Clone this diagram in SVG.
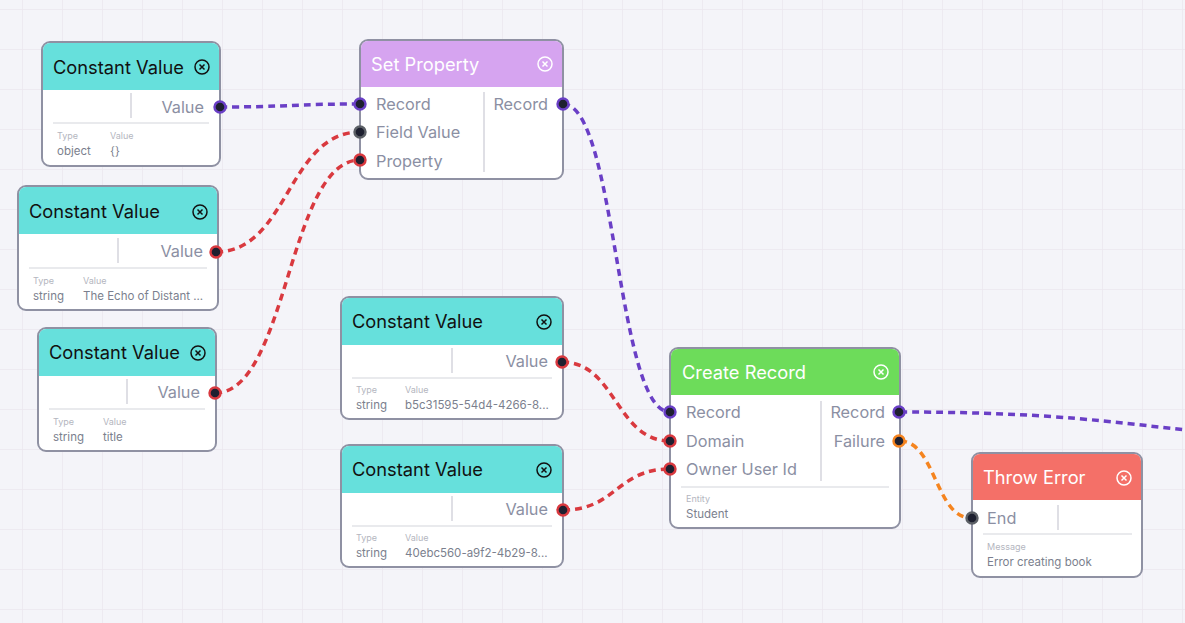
<svg xmlns="http://www.w3.org/2000/svg" width="1185" height="623" viewBox="0 0 1185 623">
<defs>
<pattern id="grid" x="22" y="9" width="40" height="40" patternUnits="userSpaceOnUse">
<path d="M0 0H40M0 0V40" fill="none" stroke="#ece8ee" stroke-width="1.5"/>
</pattern>
<style>
.card{fill:#fff;stroke:#8f91a3;stroke-width:2}
.title{font-family:Inter,"Liberation Sans",sans-serif;font-size:18.3px}
.tdark{fill:#111}
.tlight{fill:#fff}
.lbl{font-family:Inter,"Liberation Sans",sans-serif;font-size:16.3px;fill:#8b8fa3}
.sm{font-family:Inter,"Liberation Sans",sans-serif;font-size:9px;fill:#b4b6c0}
.val{font-family:Inter,"Liberation Sans",sans-serif;font-size:11.5px;fill:#7b7f8e}
.div{stroke:#d4d5dc;stroke-width:1.5}
.sep{stroke:#d4d5dc;stroke-width:1.2}
.close{fill:none;stroke-width:1.5}
.port{fill:#1e2030;stroke-width:2.4}
.p-pur{stroke:#6a3fc6}
.p-red{stroke:#d9393f}
.p-gry{stroke:#5c6066}
.p-org{stroke:#f5841f}
.wire{fill:none;stroke-width:3.5;stroke-dasharray:7 5}
.w-pur{stroke:#6a3fc6}
.w-red{stroke:#d9393f}
.w-org{stroke:#f5841f}
</style>
</defs>
<rect width="1185" height="623" fill="#f4f4f9"/>
<rect width="1185" height="623" fill="url(#grid)"/>

<g id="connectors">
<path class="wire w-pur" d="M220 107 C290 107 290 104 360 104"/>
<path class="wire w-red" d="M216 252 C288 252 288 132 360 132"/>
<path class="wire w-red" d="M215 393 C288 393 288 160 360 160"/>
<path class="wire w-pur" d="M563 104 C616.5 104 616.5 412 670 412"/>
<path class="wire w-red" d="M562 362 C616 362 616 441 670 441"/>
<path class="wire w-red" d="M563 510 C616.5 510 616.5 469 670 469"/>
<path class="wire w-pur" d="M900 412 C1150 412 1150 440 1400 440"/>
<path class="wire w-org" d="M900 441 C935.5 441 935.5 518 971 518"/>
</g>

<g id="const1" transform="translate(42,42)">
<rect class="card" x="0" y="0" width="178" height="124" rx="8"/>
<path d="M1 48V8A7 7 0 0 1 8 1H170A7 7 0 0 1 177 8V48Z" fill="#66e0dc"/>
<text class="title tdark" x="11" y="32">Constant Value</text>
<circle class="close" stroke="#111" cx="160" cy="25" r="7"/>
<path class="close" stroke="#111" d="M157.5 22.5l5 5M162.5 22.5l-5 5"/>
<line class="div" x1="89" y1="51" x2="89" y2="76"/>
<text class="lbl" x="162" y="71" text-anchor="end">Value</text>
<line class="sep" x1="11" y1="81" x2="167" y2="81"/>
<text class="sm" x="15" y="97">Type</text>
<text class="sm" x="68" y="97">Value</text>
<text class="val" x="15" y="113">object</text>
<text class="val" x="68" y="113">{}</text>
<circle class="port p-pur" cx="178" cy="65" r="5.5"/>
</g>

<g id="const2" transform="translate(18,186)">
<rect class="card" x="0" y="0" width="200" height="124" rx="8"/>
<path d="M1 48V8A7 7 0 0 1 8 1H192A7 7 0 0 1 199 8V48Z" fill="#66e0dc"/>
<text class="title tdark" x="11" y="32">Constant Value</text>
<circle class="close" stroke="#111" cx="182" cy="26" r="7"/>
<path class="close" stroke="#111" d="M179.5 23.5l5 5M184.5 23.5l-5 5"/>
<line class="div" x1="100" y1="52" x2="100" y2="77"/>
<text class="lbl" x="185" y="71" text-anchor="end">Value</text>
<line class="sep" x1="11" y1="82" x2="189" y2="82"/>
<text class="sm" x="15" y="98">Type</text>
<text class="sm" x="65" y="98">Value</text>
<text class="val" x="15" y="114">string</text>
<text class="val" x="65" y="114">The Echo of Distant ...</text>
<circle class="port p-red" cx="198" cy="66" r="5.5"/>
</g>

<g id="const3" transform="translate(38,328)">
<rect class="card" x="0" y="0" width="178" height="123" rx="8"/>
<path d="M1 48V8A7 7 0 0 1 8 1H170A7 7 0 0 1 177 8V48Z" fill="#66e0dc"/>
<text class="title tdark" x="11" y="31">Constant Value</text>
<circle class="close" stroke="#111" cx="160" cy="25" r="7"/>
<path class="close" stroke="#111" d="M157.5 22.5l5 5M162.5 22.5l-5 5"/>
<line class="div" x1="89" y1="51" x2="89" y2="76"/>
<text class="lbl" x="162" y="70" text-anchor="end">Value</text>
<line class="sep" x1="11" y1="81" x2="167" y2="81"/>
<text class="sm" x="15" y="97">Type</text>
<text class="sm" x="65" y="97">Value</text>
<text class="val" x="15" y="113">string</text>
<text class="val" x="65" y="113">title</text>
<circle class="port p-red" cx="177" cy="65" r="5.5"/>
</g>

<g id="const4" transform="translate(341,297)">
<rect class="card" x="0" y="0" width="222" height="122" rx="8"/>
<path d="M1 48V8A7 7 0 0 1 8 1H214A7 7 0 0 1 221 8V48Z" fill="#66e0dc"/>
<text class="title tdark" x="11" y="31">Constant Value</text>
<circle class="close" stroke="#111" cx="203" cy="25" r="7"/>
<path class="close" stroke="#111" d="M200.5 22.5l5 5M205.5 22.5l-5 5"/>
<line class="div" x1="111" y1="51" x2="111" y2="76"/>
<text class="lbl" x="207" y="70" text-anchor="end">Value</text>
<line class="sep" x1="11" y1="81" x2="211" y2="81"/>
<text class="sm" x="15" y="96">Type</text>
<text class="sm" x="64" y="96">Value</text>
<text class="val" x="15" y="112">string</text>
<text class="val" x="64" y="112">b5c31595-54d4-4266-8...</text>
<circle class="port p-red" cx="221" cy="65" r="5.5"/>
</g>

<g id="const5" transform="translate(341,445)">
<rect class="card" x="0" y="0" width="222" height="122" rx="8"/>
<path d="M1 48V8A7 7 0 0 1 8 1H214A7 7 0 0 1 221 8V48Z" fill="#66e0dc"/>
<text class="title tdark" x="11" y="31">Constant Value</text>
<circle class="close" stroke="#111" cx="203" cy="25" r="7"/>
<path class="close" stroke="#111" d="M200.5 22.5l5 5M205.5 22.5l-5 5"/>
<line class="div" x1="111" y1="51" x2="111" y2="76"/>
<text class="lbl" x="207" y="70" text-anchor="end">Value</text>
<line class="sep" x1="11" y1="81" x2="211" y2="81"/>
<text class="sm" x="15" y="96">Type</text>
<text class="sm" x="64" y="96">Value</text>
<text class="val" x="15" y="112">string</text>
<text class="val" x="64" y="112">40ebc560-a9f2-4b29-8...</text>
<circle class="port p-red" cx="222" cy="65" r="5.5"/>
</g>

<g id="setprop" transform="translate(360,40)">
<rect class="card" x="0" y="0" width="203" height="139" rx="8"/>
<path d="M1 47V8A7 7 0 0 1 8 1H195A7 7 0 0 1 202 8V47Z" fill="#d6a4f0"/>
<text class="title tlight" x="11" y="31">Set Property</text>
<circle class="close" stroke="#fff" cx="185" cy="24" r="7"/>
<path class="close" stroke="#fff" d="M182.5 21.5l5 5M187.5 21.5l-5 5"/>
<line class="div" x1="124" y1="52" x2="124" y2="132"/>
<text class="lbl" x="16" y="70">Record</text>
<text class="lbl" x="16" y="98">Field Value</text>
<text class="lbl" x="16" y="127">Property</text>
<text class="lbl" x="188" y="70" text-anchor="end">Record</text>
<circle class="port p-pur" cx="0" cy="64" r="5.5"/>
<circle class="port p-gry" cx="0" cy="92" r="5.5"/>
<circle class="port p-red" cx="0" cy="120" r="5.5"/>
<circle class="port p-pur" cx="203" cy="64" r="5.5"/>
</g>

<g id="createrec" transform="translate(670,348)">
<rect class="card" x="0" y="0" width="230" height="180" rx="8"/>
<path d="M1 47V8A7 7 0 0 1 8 1H222A7 7 0 0 1 229 8V47Z" fill="#6ddc5a"/>
<text class="title tlight" x="12" y="31">Create Record</text>
<circle class="close" stroke="#fff" cx="211" cy="24" r="7"/>
<path class="close" stroke="#fff" d="M208.5 21.5l5 5M213.5 21.5l-5 5"/>
<line class="div" x1="151" y1="53" x2="151" y2="133"/>
<text class="lbl" x="16" y="70">Record</text>
<text class="lbl" x="16" y="99">Domain</text>
<text class="lbl" x="16" y="127">Owner User Id</text>
<text class="lbl" x="215" y="70" text-anchor="end">Record</text>
<text class="lbl" x="215" y="99" text-anchor="end">Failure</text>
<line class="sep" x1="11" y1="139" x2="219" y2="139"/>
<text class="sm" x="16" y="154">Entity</text>
<text class="val" x="16" y="170">Student</text>
<circle class="port p-pur" cx="0" cy="64" r="5.5"/>
<circle class="port p-red" cx="0" cy="93" r="5.5"/>
<circle class="port p-red" cx="0" cy="121" r="5.5"/>
<circle class="port p-pur" cx="229" cy="64" r="5.5"/>
<circle class="port p-org" cx="229" cy="93" r="5.5"/>
</g>

<g id="throwerr" transform="translate(972,453)">
<rect class="card" x="0" y="0" width="170" height="124" rx="8"/>
<path d="M1 47V8A7 7 0 0 1 8 1H162A7 7 0 0 1 169 8V47Z" fill="#f47068"/>
<text class="title tlight" x="11" y="31">Throw Error</text>
<circle class="close" stroke="#fff" cx="152" cy="25" r="7"/>
<path class="close" stroke="#fff" d="M149.5 22.5l5 5M154.5 22.5l-5 5"/>
<line class="div" x1="86" y1="52" x2="86" y2="77"/>
<text class="lbl" x="15" y="71">End</text>
<line class="sep" x1="11" y1="81" x2="160" y2="81"/>
<text class="sm" x="15" y="97">Message</text>
<text class="val" x="15" y="113">Error creating book</text>
<circle class="port p-gry" cx="0" cy="65" r="5.5"/>
</g>
</svg>
